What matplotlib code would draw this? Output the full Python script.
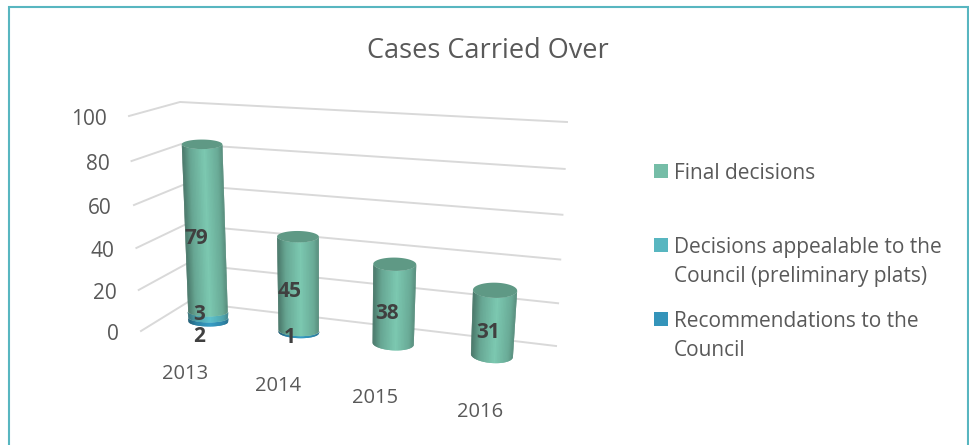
import numpy as np
import matplotlib
matplotlib.use("Agg")
import matplotlib.pyplot as plt
from matplotlib.collections import PolyCollection
from matplotlib.patches import Rectangle, Polygon

# ---- data ----
years = ["2013", "2014", "2015", "2016"]
final_decisions = [79, 45, 38, 31]
appealable = [3, 0, 0, 0]
recommendations = [2, 1, 0, 0]
value_ticks = [0, 20, 40, 60, 80, 100]
legend_labels = ["Final decisions",
                 "Decisions appealable to the\nCouncil (preliminary plats)",
                 "Recommendations to the\nCouncil"]
title = "Cases Carried Over"

# ---- style ----
plt.rcParams["font.family"] = ["Open Sans", "DejaVu Sans"]
C_FINAL, C_APPEAL, C_REC = "#75BDA7", "#58B6C0", "#3494BA"
C_TEXT, C_GRID, C_LABEL = "#595959", "#D9D9D9", "#404040"

fig = plt.figure(figsize=(9.7, 4.45), dpi=100)
ax = fig.add_axes([0, 0, 1, 1])
ax.set_xlim(0, 970)
ax.set_ylim(445, 0)
ax.axis("off")

# ---- chart-box projection: floor / ceiling corners in figure pixels ----
FLOOR = {"bl": (188, 302), "br": (556, 346), "fl": (141, 331), "fr": (530, 377)}
CEIL = {"bl": (180, 102), "br": (567, 122), "fl": (129, 116), "fr": (546, 171)}
BAR_DEPTH_GAIN = 1.022   # bars stand nearer the viewer than the walls


def proj(u, v, w):
    """u: category position 0..4, v: value 0..100, w: depth 0 front .. 1 back."""
    s = u / 4.0
    s = s / (1 + 0.092 * (1 - s))      # perspective foreshortening
    t = v / 100.0
    t = t / (1 + 0.06 * (1 - t))

    def plane(c):
        c = {k: np.array(p, float) for k, p in c.items()}
        return ((1 - s) * ((1 - w) * c["fl"] + w * c["bl"])
                + s * ((1 - w) * c["fr"] + w * c["br"]))

    return (1 - t) * plane(FLOOR) + t * plane(CEIL)


def bar_point(u, v):
    return proj(u, v * BAR_DEPTH_GAIN, 0.5)


# gridlines
for v in value_ticks:
    pts = np.array([proj(0, v, 0), proj(0, v, 1), proj(4, v, 1)])
    ax.plot(pts[:, 0], pts[:, 1], color=C_GRID, lw=1.4, zorder=1,
            solid_joinstyle="miter")
    ax.text(pts[0, 0] - 22, pts[0, 1] + 1, str(v), ha="right", va="center_baseline",
            fontsize=15, color=C_TEXT)


def shade(color, t):
    """t in 0..1 across the visible width, left to right."""
    rgb = np.array(matplotlib.colors.to_rgb(color))
    k = np.interp(t, [0, 0.12, 0.45, 0.8, 1], [0.74, 0.9, 1.06, 0.88, 0.62])
    return tuple(np.clip(rgb * k, 0, 1))


def ring(cx, cy, rx, ry, slope, a):
    return np.column_stack((cx + rx * np.cos(a),
                            cy + rx * np.cos(a) * slope + ry * np.sin(a)))


def cylinder(u, v0, v1, color, top=False):
    rx0 = 19.6 + 0.4 * u
    rx1 = 20.0 + 0.6 * u
    ry = 4.3 + 0.95 * u
    p0, p1 = bar_point(u, v0), bar_point(u, v1)
    s0 = 0.02 * u * (1 - v0 / 100)
    s1 = 0.02 * u * (1 - v1 / 100) if not top else 0.005 * u
    angles = np.linspace(np.pi, 0, 41)
    polys, cols = [], []
    # painter's order: each strip overlaps the next one, so no seams show
    for i in range(len(angles) - 1):
        a = angles[i:i + 3]
        polys.append(np.vstack((ring(*p0, rx0, ry, s0, a),
                                ring(*p1, rx1, ry, s1, a[::-1]))))
        mid = (angles[i] + angles[i + 1]) / 2
        cols.append(shade(color, (1 + np.cos(np.pi - mid)) / 2))
    coll = PolyCollection(polys, facecolors=cols, edgecolors="none",
                          linewidths=0, zorder=3)
    coll.set_snap(False)
    ax.add_collection(coll)
    if top:
        a = np.linspace(0, 2 * np.pi, 80)
        ax.add_patch(Polygon(ring(*p1, rx1, ry, s1, a),
                             closed=True, fc="#5F9985", ec="none", zorder=4))


for i in range(len(years)):
    u = i + 0.5
    base = 0
    for val, col in ((recommendations[i], C_REC), (appealable[i], C_APPEAL)):
        if val:
            cylinder(u, base, base + val, col)
            base += val
    # the final-decisions body overlaps the lower segments' top rims
    cylinder(u, base, base + final_decisions[i], C_FINAL, top=True)

# ---- text labels ----
year_off = [(-1, 35), (-1, 36), (-1, 37), (3, 39)]
for i, y in enumerate(years):
    x0, y0 = proj(i + 0.5, 0, 0)
    ax.text(x0 + year_off[i][0], y0 + year_off[i][1], y, ha="center",
            va="center_baseline", fontsize=14.5, color=C_TEXT)

label_kw = dict(ha="center", va="center_baseline", fontsize=15, color=C_LABEL,
                fontweight="bold", zorder=6)
final_off = [(-9, 6), (-9, 5), (-7, 7), (-5, 7)]
for i in range(len(years)):
    u = i + 0.5
    r, a, f = recommendations[i], appealable[i], final_decisions[i]
    x0, y0 = bar_point(u, r + a + f / 2)
    ax.text(x0 + final_off[i][0], y0 + final_off[i][1], str(f), **label_kw)
    if a:
        x0, y0 = bar_point(u, r + a / 2)
        ax.text(x0 - 9, y0 - 3, str(a), **label_kw)
    if r:
        x0, y0 = bar_point(u, r / 2)
        ax.text(x0 - 9, y0 + (14 if a else 4), str(r), **label_kw)

ax.text(488, 48, title, ha="center", va="center_baseline", fontsize=19.5, color=C_TEXT)

# ---- legend ----
for col, lab, ytop in zip((C_FINAL, C_APPEAL, C_REC), legend_labels, (164, 238, 312)):
    ax.add_patch(Rectangle((654, ytop), 14, 14, fc=col, ec="none"))
    for k, line in enumerate(lab.split("\n")):
        ax.text(674, ytop + 7 + 29 * k, line, ha="left", va="center_baseline",
                fontsize=15, color=C_TEXT)

# ---- frame (open at the bottom, cropped in the reference) ----
ax.plot([9, 9, 968, 968], [445, 6.5, 6.5, 445], color=C_APPEAL, lw=1.5, zorder=7,
        solid_joinstyle="miter")

fig.savefig("out.png", dpi=100, facecolor="white")
